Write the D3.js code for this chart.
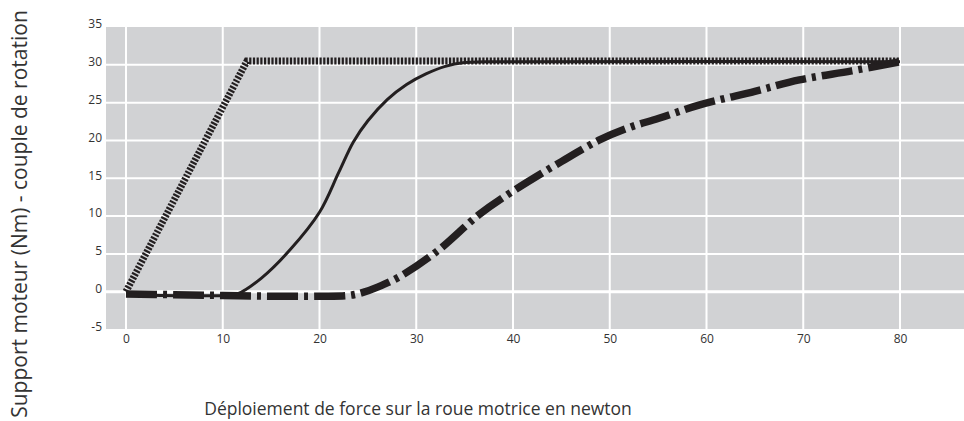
<!DOCTYPE html>
<html><head><meta charset="utf-8">
<script src="https://cdn.jsdelivr.net/npm/d3@7"></script>
<style>body{margin:0;background:#fff}svg{display:block}</style>
</head><body>
<svg id="c" width="964" height="421"></svg>
<script>
const xTicks = [0,10,20,30,40,50,60,70,80];
const yTicks = [-5,0,5,10,15,20,25,30,35];
// Dotted series (maximum support)
const dottedX = [0, 12.5, 80];
const dottedY = [0, 30.5, 30.5];
// Thin solid series
const solidX = [0, 10, 11.5, 14, 17, 20, 22, 23.5, 25, 27, 29, 31, 33, 35, 37, 80];
const solidY = [-0.4, -0.5, -0.3, 1.8, 5.6, 10.5, 15.8, 19.8, 22.6, 25.4, 27.4, 28.8, 29.8, 30.3, 30.4, 30.4];
// Dash-dot series
const dashX = [0, 5, 10, 15, 20, 23, 24.5, 26, 28.3, 32.1, 36.5, 40, 45, 49, 52, 55, 59.3, 65, 69.6, 75, 80];
const dashY = [-0.3, -0.4, -0.5, -0.6, -0.6, -0.5, -0.1, 0.6, 2, 5.3, 10.2, 13.3, 17.2, 20.1, 21.7, 22.9, 24.7, 26.5, 28, 29.2, 30.4];

(function(){
const svg = d3.select("#c");
const x = d3.scaleLinear().domain([0,80]).range([126,900]);
const y = d3.scaleLinear().domain([-5,35]).range([329.5,27]);
const pL = 106, pR = 964, pT = 27, pB = 329;
const ink = "#231f20";
const font = "'Open Sans', sans-serif";

svg.append("rect").attr("x",pL).attr("y",pT).attr("width",pR-pL).attr("height",pB-pT).attr("fill","#d1d2d4");

// grid
svg.append("g").selectAll("line").data(yTicks.filter(d=>d>-5 && d<35)).join("line")
  .attr("x1",pL).attr("x2",pR).attr("y1",d=>y(d)).attr("y2",d=>y(d))
  .attr("stroke","#fff").attr("stroke-width",d=>d===0?3:2);
svg.append("g").selectAll("line").data(xTicks).join("line")
  .attr("x1",d=>x(d)).attr("x2",d=>x(d)).attr("y1",pT).attr("y2",pB)
  .attr("stroke","#fff").attr("stroke-width",2);

// axes (labels only)
const yAxis = d3.axisLeft(y).tickValues(yTicks).tickSize(0).tickPadding(0).tickFormat(d=>String(d));
const gy = svg.append("g").attr("transform","translate(102,-3)").call(yAxis);
const xAxis = d3.axisBottom(x).tickValues(xTicks).tickSize(0).tickPadding(0).tickFormat(d=>String(d));
const gx = svg.append("g").attr("transform","translate(0,334)").call(xAxis);
[gy,gx].forEach(g=>{g.select(".domain").remove();
  g.selectAll("text").attr("font-family",font).attr("font-size",12).attr("fill","#333");});

const line = d3.line().x(d=>x(d[0])).y(d=>y(d[1]));
const lineC = d3.line().x(d=>x(d[0])).y(d=>y(d[1])).curve(d3.curveCatmullRom.alpha(0.5));

svg.append("path").datum(dashX.map((v,i)=>[v,dashY[i]])).attr("d",lineC)
  .attr("fill","none").attr("stroke",ink).attr("stroke-width",7.5)
  .attr("stroke-dasharray","31,6,4,6");
svg.append("path").datum(solidX.map((v,i)=>[v,solidY[i]])).attr("d",lineC)
  .attr("fill","none").attr("stroke",ink).attr("stroke-width",3);
svg.append("path").datum(dottedX.map((v,i)=>[v,dottedY[i]])).attr("d",line)
  .attr("fill","none").attr("stroke",ink).attr("stroke-width",7)
  .attr("stroke-dasharray","2.2,1.5");

svg.append("text").attr("x",418).attr("y",415).attr("text-anchor","middle")
  .attr("font-family",font).attr("font-size",17.5).attr("fill","#333")
  .text("Déploiement de force sur la roue motrice en newton");
svg.append("text").attr("transform","translate(27,214) rotate(-90)").attr("text-anchor","middle")
  .attr("font-family",font).attr("font-size",21).attr("fill","#333")
  .text("Support moteur (Nm) - couple de rotation");
})();
</script>
</body></html>
